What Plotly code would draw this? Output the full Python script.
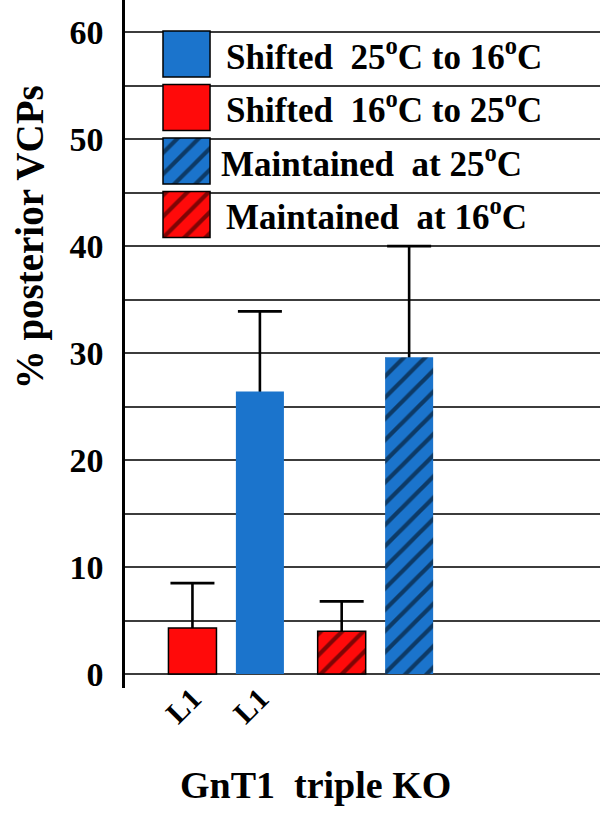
import plotly.graph_objects as go

# ---------------- data ----------------
groups = ["Shifted", "Maintained"]
series_names = ["Shifted 25°C to 16°C", "Shifted 16°C to 25°C",
                "Maintained at 25°C", "Maintained at 16°C"]
legend_texts = ["Shifted&nbsp; 25<sup>o</sup>C to 16<sup>o</sup>C",
                "Shifted&nbsp; 16<sup>o</sup>C to 25<sup>o</sup>C",
                "Maintained&nbsp; at 25<sup>o</sup>C",
                "Maintained&nbsp; at 16<sup>o</sup>C"]
series_group = ["Shifted", "Shifted", "Maintained", "Maintained"]
series_values = [26.4, 4.3, 29.6, 4.0]
series_err_top = [33.9, 8.5, 40.0, 6.8]
tick_labels = ["L1", "L1"]

# ---------------- styles ----------------
BLUE = "#1b74cc"
RED = "#ff0a0a"
colors = [BLUE, RED, BLUE, RED]
hatches = ["", "", "/", "/"]
outlines = [0, 1.5, 0, 1.5]
offsetgroups = ["blue", "red", "blue", "red"]
FONT = "Liberation Serif, Times New Roman, serif"
GRID = "#3c3c3c"
PATTERN_SIZE = 15
PATTERN_SOLID = 0.28

bargap = 0.096
bargroupgap = 0.288
slot = (1 - bargap) / 2

fig = go.Figure()

draw_order = [1, 0, 3, 2]  # red offsetgroup first so it sits on the left

# error bars (drawn first, lower half hidden behind the bars)
for i in draw_order:
    err = series_err_top[i] - series_values[i]
    fig.add_trace(go.Bar(
        x=[groups.index(series_group[i])], y=[series_values[i]],
        offsetgroup=offsetgroups[i],
        marker=dict(color="rgba(0,0,0,0)", line=dict(width=0)),
        error_y=dict(type="data", array=[err], symmetric=True,
                     color="black", thickness=2.6, width=22),
        showlegend=False, hoverinfo="skip"))

# bars
for i in draw_order:
    fig.add_trace(go.Bar(
        x=[groups.index(series_group[i])], y=[series_values[i]],
        name=series_names[i], offsetgroup=offsetgroups[i],
        marker=dict(color=colors[i],
                    line=dict(color="black", width=outlines[i]),
                    pattern=dict(shape=hatches[i], fgcolor="black",
                                 size=PATTERN_SIZE, solidity=PATTERN_SOLID)),
        showlegend=False))

# legend swatches (overlay axis)
leg_low = [55, 50, 45, 40]
for i, lo in enumerate(leg_low):
    fig.add_trace(go.Bar(
        x=[0.1295], y=[4.3], base=[lo + 0.8],
        width=0.099, xaxis="x2", yaxis="y", offsetgroup="legend",
        marker=dict(color=colors[i], line=dict(color="black", width=1.5),
                    pattern=dict(shape=hatches[i], fgcolor="black",
                                 size=PATTERN_SIZE, solidity=PATTERN_SOLID)),
        showlegend=False, hoverinfo="skip"))

annotations = []
text_x = [0.208, 0.208, 0.197, 0.208]
for i, lo in enumerate(leg_low):
    annotations.append(dict(
        text=legend_texts[i], xref="x2", yref="y", x=text_x[i], y=lo + 2.95,
        xanchor="left", yanchor="middle", showarrow=False,
        font=dict(family=FONT, size=35, color="black", weight="bold")))

annotations.append(dict(
    text="% posterior VCPs", xref="paper", yref="paper", x=-0.2, y=0.655,
    textangle=-90, xanchor="center", yanchor="middle", showarrow=False,
    font=dict(family=FONT, size=39, color="black", weight="bold")))
annotations.append(dict(
    text="GnT1&nbsp; triple KO", xref="paper", yref="paper", x=0.402, y=-0.141,
    xanchor="center", yanchor="middle", showarrow=False,
    font=dict(family=FONT, size=38, color="black", weight="bold")))

fig.update_layout(
    width=600, height=815,
    margin=dict(l=125, r=0, t=0, b=127),
    plot_bgcolor="white", paper_bgcolor="white",
    barmode="group", bargap=bargap, bargroupgap=bargroupgap,
    showlegend=False,
    font=dict(family=FONT, color="black", weight="bold"),
    xaxis=dict(range=[-0.678, 2.505], tickmode="array",
               tickvals=[-slot / 2, slot / 2], ticktext=tick_labels,
               tickangle=-45, tickfont=dict(family=FONT, size=30, weight="bold"),
               ticklabelstandoff=-14,
               showgrid=False, zeroline=False, showline=False, ticks=""),
    xaxis2=dict(overlaying="x", range=[0, 1], visible=False),
    yaxis=dict(range=[-1.3, 63], tickmode="linear", tick0=0, dtick=10,
               showgrid=True, gridcolor=GRID, gridwidth=1.6,
               minor=dict(dtick=5, showgrid=True, gridcolor=GRID, gridwidth=1.6),
               zeroline=True, zerolinecolor=GRID, zerolinewidth=1.6,
               showline=True, linecolor="black", linewidth=2.6,
               ticks="", ticklabelstandoff=12,
               tickfont=dict(family=FONT, size=34, weight="bold")),
    annotations=annotations,
)

fig.write_html("out.html", config={"displayModeBar": False},
               post_script="document.body.style.margin='0';")
